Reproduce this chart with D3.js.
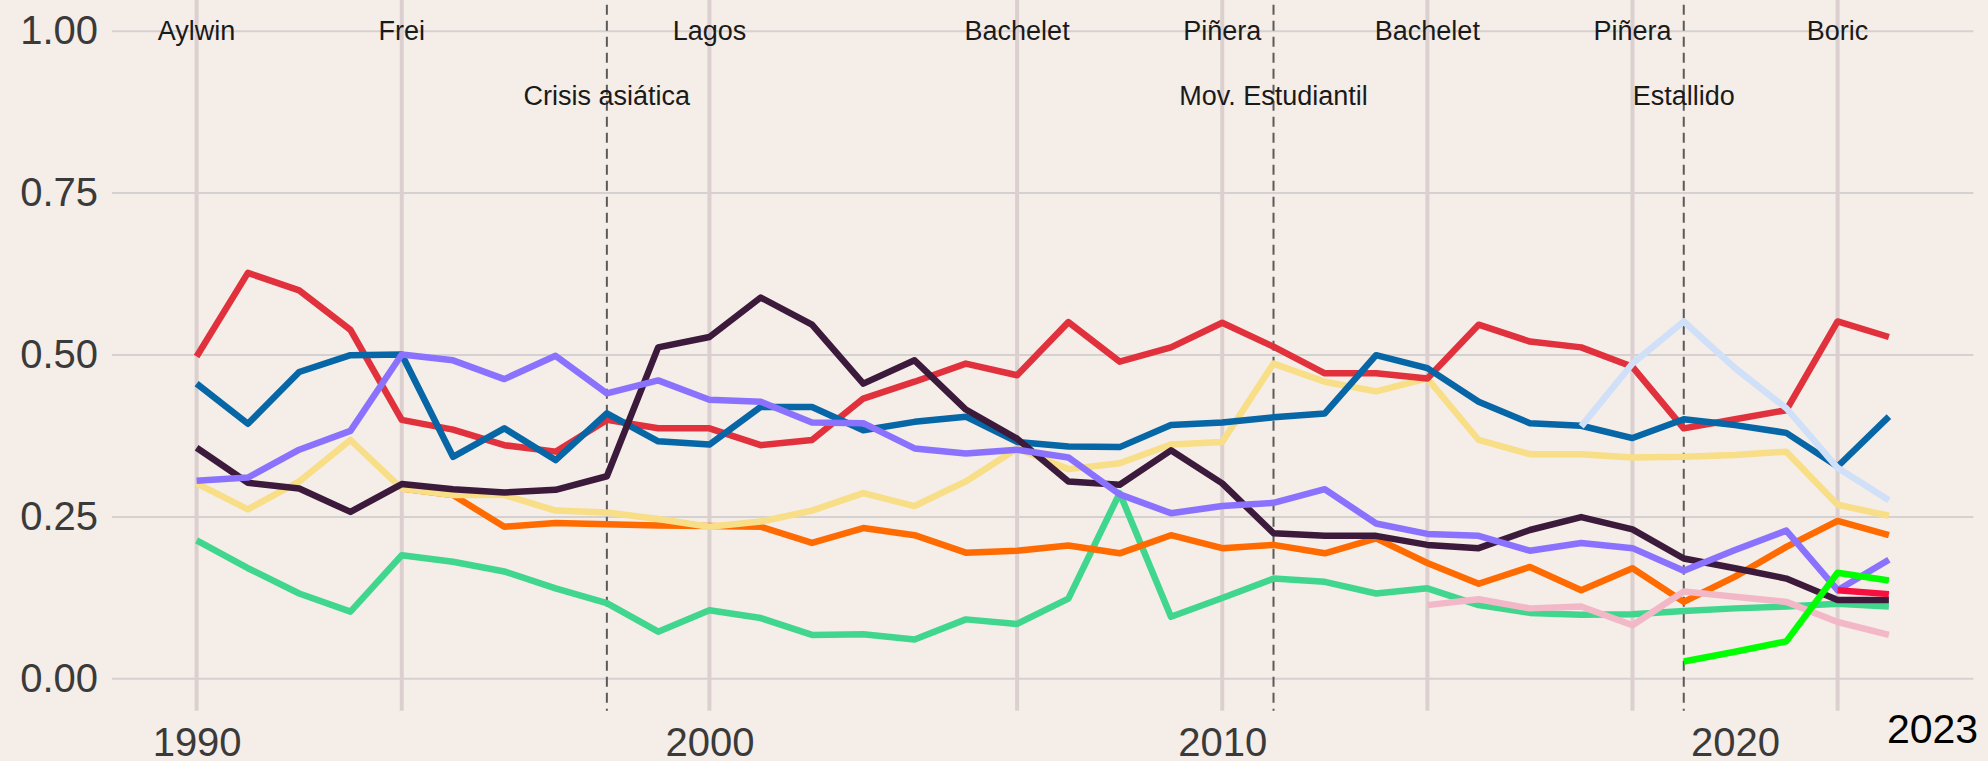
<!DOCTYPE html>
<html>
<head>
<meta charset="utf-8">
<script src="https://cdn.jsdelivr.net/npm/d3@7"></script>
<style>
  body { margin: 0; background: #F5EDE8; }
  svg { display: block; font-family: "Liberation Sans", Arial, sans-serif; }
</style>
</head>
<body>
<div id="chart"></div>
<script>
// years on the x axis
var years = [1990, 1991, 1992, 1993, 1994, 1995, 1996, 1997, 1998, 1999,
    2000, 2001, 2002, 2003, 2004, 2005, 2006, 2007, 2008, 2009,
    2010, 2011, 2012, 2013, 2014, 2015, 2016, 2017, 2018, 2019,
    2020, 2021, 2022, 2023];

// series values, one per year (null = not present that year)
var redValues = [0.497, 0.626, 0.599, 0.538, 0.399, 0.384, 0.360, 0.350, 0.399, 0.386,
    0.386, 0.360, 0.368, 0.432, 0.458, 0.486, 0.468, 0.550, 0.489, 0.511,
    0.549, 0.512, 0.471, 0.471, 0.463, 0.546, 0.520, 0.511, 0.481, 0.386,
    0.400, 0.414, 0.551, 0.527];
var blueValues = [0.455, 0.393, 0.473, 0.499, 0.500, 0.342, 0.386, 0.337, 0.409, 0.366,
    0.361, 0.419, 0.419, 0.383, 0.396, 0.404, 0.365, 0.358, 0.357, 0.391,
    0.395, 0.403, 0.409, 0.499, 0.479, 0.427, 0.394, 0.390, 0.371, 0.400,
    0.391, 0.379, 0.327, 0.404];
var darkValues = [0.356, 0.302, 0.293, 0.257, 0.300, 0.292, 0.287, 0.291, 0.312, 0.511,
    0.527, 0.588, 0.546, 0.455, 0.491, 0.415, 0.370, 0.304, 0.299, 0.352,
    0.301, 0.224, 0.220, 0.220, 0.206, 0.201, 0.229, 0.249, 0.230, 0.185,
    0.170, 0.154, 0.121, 0.121];
var purpleValues = [0.305, 0.310, 0.353, 0.382, 0.500, 0.491, 0.462, 0.498, 0.440, 0.460,
    0.430, 0.427, 0.395, 0.394, 0.355, 0.347, 0.353, 0.341, 0.284, 0.255,
    0.266, 0.271, 0.292, 0.239, 0.223, 0.220, 0.197, 0.209, 0.201, 0.166,
    0.198, 0.228, 0.136, 0.183];
var yellowValues = [0.301, 0.261, 0.304, 0.368, 0.293, 0.283, 0.283, 0.259, 0.256, 0.246,
    0.234, 0.242, 0.259, 0.286, 0.266, 0.304, 0.355, 0.323, 0.332, 0.361,
    0.365, 0.486, 0.458, 0.443, 0.463, 0.368, 0.346, 0.346, 0.341, 0.342,
    0.345, 0.350, 0.268, 0.251];
var orangeValues = [null, null, null, null, 0.293, 0.283, 0.234, 0.240, 0.238, 0.236,
    0.235, 0.234, 0.209, 0.232, 0.221, 0.194, 0.197, 0.205, 0.193, 0.221,
    0.201, 0.206, 0.193, 0.216, 0.178, 0.146, 0.172, 0.136, 0.170, 0.118,
    0.157, 0.203, 0.243, 0.221];
var greenValues = [0.213, 0.170, 0.131, 0.103, 0.190, 0.180, 0.165, 0.139, 0.116, 0.072,
    0.105, 0.093, 0.067, 0.068, 0.060, 0.091, 0.084, 0.123, 0.286, 0.095,
    0.124, 0.154, 0.149, 0.131, 0.139, 0.113, 0.101, 0.098, 0.099, 0.104,
    0.108, 0.111, 0.115, 0.111];
var lightBlueValues = [null, null, null, null, null, null, null, null, null, null,
    null, null, null, null, null, null, null, null, null, null,
    null, null, null, null, null, null, null, 0.389, 0.486, 0.551,
    0.479, 0.417, 0.325, 0.275];
var pinkValues = [null, null, null, null, null, null, null, null, null, null,
    null, null, null, null, null, null, null, null, null, null,
    null, null, null, null, 0.113, 0.122, 0.108, 0.111, 0.082, 0.134,
    0.126, 0.118, 0.087, 0.067];
var limeValues = [null, null, null, null, null, null, null, null, null, null,
    null, null, null, null, null, null, null, null, null, null,
    null, null, null, null, null, null, null, null, null, 0.026,
    0.041, 0.057, 0.163, 0.151];
var crimsonValues = [null, null, null, null, null, null, null, null, null, null,
    null, null, null, null, null, null, null, null, null, null,
    null, null, null, null, null, null, null, null, null, null,
    null, null, 0.136, 0.130];

// government start years and names
var govYears = [1990, 1994, 2000, 2006, 2010, 2014, 2018, 2022];
var govNames = ["Aylwin", "Frei", "Lagos", "Bachelet", "Piñera", "Bachelet", "Piñera", "Boric"];

// events marked with dashed lines
var eventYears = [1998, 2011, 2019];
var eventNames = ["Crisis asiática", "Mov. Estudiantil", "Estallido"];

// tick labels
var yTicks = [0, 0.25, 0.5, 0.75, 1];
var xTicks = [1990, 2000, 2010, 2020];

// series in drawing order (bottom to top)
var series = [
    { values: greenValues, color: "#40D68D" },
    { values: orangeValues, color: "#FF6B00" },
    { values: yellowValues, color: "#F7DE87" },
    { values: redValues, color: "#E0313C" },
    { values: blueValues, color: "#0666A6" },
    { values: darkValues, color: "#3B1A3B" },
    { values: purpleValues, color: "#8B72FE" },
    { values: pinkValues, color: "#F2B8C8" },
    { values: lightBlueValues, color: "#CFE0F8" },
    { values: crimsonValues, color: "#F7103F" },
    { values: limeValues, color: "#00FF00" }
];

var svgWidth = 1988;
var svgHeight = 761;

// panel edges in pixels
var panel = { left: 112, right: 1973.5, top: -1.7, bottom: 710.7 };

var svg = d3.select("#chart")
    .append("svg")
    .attr("width", svgWidth)
    .attr("height", svgHeight);

svg.append("rect")
    .attr("width", svgWidth)
    .attr("height", svgHeight)
    .attr("fill", "#F5EDE8");

// scales with ggplot-like 5% expansion
var xScale = d3.scaleLinear()
    .domain([1988.35, 2024.65])
    .range([panel.left, panel.right]);

var yScale = d3.scaleLinear()
    .domain([-0.05, 1.05])
    .range([panel.bottom, panel.top]);

// horizontal gridlines
svg.append("g")
    .attr("transform", `translate(${panel.left}, 0)`)
    .call(d3.axisLeft(yScale)
        .tickValues(yTicks)
        .tickSize(-(panel.right - panel.left))
        .tickFormat(""))
    .call(g => g.select(".domain").remove())
    .call(g => g.selectAll("line")
        .attr("stroke", "#D6D1D1")
        .attr("stroke-width", 2));

// y axis labels
svg.append("g")
    .attr("transform", `translate(${panel.left}, 0)`)
    .call(d3.axisLeft(yScale)
        .tickValues(yTicks)
        .tickSize(0)
        .tickPadding(14)
        .tickFormat(d3.format(".2f")))
    .call(g => g.select(".domain").remove())
    .call(g => g.selectAll("text")
        .attr("font-size", 40)
        .attr("font-family", "Liberation Sans, Arial, sans-serif")
        .attr("fill", "#3A3A3A"));

// x axis labels
svg.append("g")
    .attr("transform", `translate(0, ${panel.bottom})`)
    .call(d3.axisBottom(xScale)
        .tickValues(xTicks)
        .tickSize(0)
        .tickPadding(17)
        .tickFormat(d3.format("d")))
    .call(g => g.select(".domain").remove())
    .call(g => g.selectAll("text")
        .attr("font-size", 40)
        .attr("font-family", "Liberation Sans, Arial, sans-serif")
        .attr("fill", "#3A3A3A"));

// government lines
svg.append("g")
    .selectAll("line")
    .data(govYears)
    .enter()
    .append("line")
    .attr("x1", d => xScale(d))
    .attr("x2", d => xScale(d))
    .attr("y1", panel.top)
    .attr("y2", panel.bottom)
    .attr("stroke", "#DBD0CF")
    .attr("stroke-width", 4);

// event lines
svg.append("g")
    .selectAll("line")
    .data(eventYears)
    .enter()
    .append("line")
    .attr("x1", d => xScale(d))
    .attr("x2", d => xScale(d))
    .attr("y1", yScale(1.04))
    .attr("y2", panel.bottom)
    .attr("stroke", "#5A5A5A")
    .attr("stroke-width", 2)
    .attr("stroke-dasharray", "10,6");

// series lines
var line = d3.line()
    .defined(d => d[1] !== null)
    .x(d => xScale(d[0]))
    .y(d => yScale(d[1]));

svg.append("g")
    .selectAll("path")
    .data(series)
    .enter()
    .append("path")
    .attr("d", s => line(years.map((yr, i) => [yr, s.values[i]])))
    .attr("fill", "none")
    .attr("stroke", s => s.color)
    .attr("stroke-width", 6.5)
    .attr("stroke-linejoin", "round");

// government names
svg.append("g")
    .selectAll("text")
    .data(govYears)
    .enter()
    .append("text")
    .attr("x", d => xScale(d))
    .attr("y", yScale(1))
    .attr("dy", "0.35em")
    .attr("text-anchor", "middle")
    .attr("font-size", 27)
    .attr("fill", "#1A1A1A")
    .text((d, i) => govNames[i]);

// event names
svg.append("g")
    .selectAll("text")
    .data(eventYears)
    .enter()
    .append("text")
    .attr("x", d => xScale(d))
    .attr("y", yScale(0.9))
    .attr("dy", "0.35em")
    .attr("text-anchor", "middle")
    .attr("font-size", 27)
    .attr("fill", "#1A1A1A")
    .text((d, i) => eventNames[i]);

// current year label
svg.append("text")
    .attr("x", xScale(years[years.length - 1]) - 2)
    .attr("y", 743)
    .attr("font-size", 41)
    .attr("fill", "#000000")
    .text(years[years.length - 1]);
</script>
</body>
</html>
